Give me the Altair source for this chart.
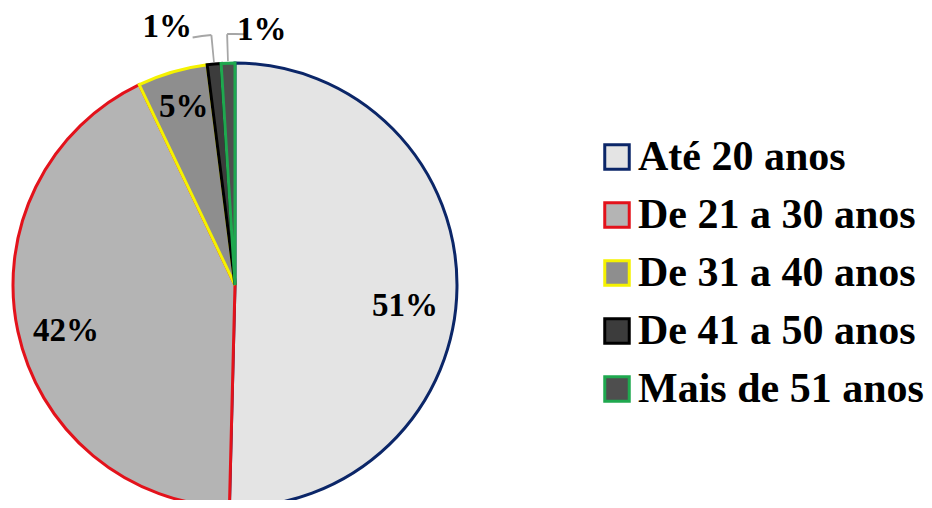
import altair as alt
import pandas as pd

categories = ["Até 20 anos", "De 21 a 30 anos", "De 31 a 40 anos", "De 41 a 50 anos", "Mais de 51 anos"]
values = [50.4, 42.5, 5.1, 1.0, 1.0]
labels = ["51%", "42%", "5%", "1%", "1%"]
fills = ["#e4e4e4", "#b4b4b4", "#8e8e8e", "#3c3c3c", "#4e4e4e"]
strokes = ["#0b2668", "#e3121b", "#f5f200", "#000000", "#1fa84f"]

df = pd.DataFrame({"cat": categories, "value": values, "label": labels, "idx": list(range(len(categories)))})

theta_scale = alt.Scale(domain=[0, 100], range=[0, 6.283185307179586])
CX, CY = 227, 277
FONT = "Liberation Serif"

base = (
    alt.Chart(df)
    .transform_stack(stack="value", groupby=[], as_=["v0", "v1"], sort=[alt.SortField("idx", order="ascending")])
    .transform_calculate(mid="(datum.v0 + datum.v1) / 2")
)

pie = base.mark_arc(strokeWidth=3, radius=222, strokeJoin="miter").encode(
    theta=alt.Theta("v0:Q", scale=theta_scale),
    theta2="v1:Q",
    x=alt.value(CX),
    y=alt.value(CY),
    fill=alt.Fill("cat:N", scale=alt.Scale(domain=categories, range=fills), sort=categories, title=None),
    stroke=alt.Stroke("cat:N", scale=alt.Scale(domain=categories, range=strokes), sort=categories, title=None),
    order=alt.Order("idx:Q"),
)

txt_style = dict(font=FONT, fontWeight="bold", fontSize=33, color="black")


def label_layer(src, i, radius, dx, dy):
    return src.transform_filter(f"datum.idx == {i}").mark_text(radius=radius, dx=dx, dy=dy, **txt_style).encode(
        theta=alt.Theta("mid:Q", scale=theta_scale),
        x=alt.value(CX),
        y=alt.value(CY),
        text="label:N",
    )


small = base.transform_filter("datum.value <= 2").transform_calculate(
    a0="datum.mid - 0.06",
    a1="datum.mid + 0.06",
    h1="datum.idx == 3 ? datum.mid - 1.2 : datum.mid + 1.15",
)

lead_radial = small.mark_arc(radius=224, radius2=251, color="#a6a6a6").encode(
    theta=alt.Theta("a0:Q", scale=theta_scale),
    theta2="a1:Q",
    x=alt.value(CX),
    y=alt.value(CY),
)

lead_horiz = small.mark_arc(radius=250, radius2=252, color="#a6a6a6").encode(
    theta=alt.Theta("mid:Q", scale=theta_scale),
    theta2="h1:Q",
    x=alt.value(CX),
    y=alt.value(CY),
)

lab0 = label_layer(base, 0, 178, -8, 19)
lab1 = label_layer(base, 1, 178, 5, 9)
lab2 = label_layer(base, 2, 178, -1, -7)
lab3 = label_layer(small, 3, 262, -43, 3)
lab4 = label_layer(small, 4, 262, 35, 7)

chart = (
    alt.layer(pie, lead_radial, lead_horiz, lab0, lab1, lab2, lab3, lab4)
    .properties(width=916, height=492, padding=0, autosize="none")
    .configure_view(stroke=None)
    .configure_legend(
        orient="none",
        legendX=588,
        legendY=128,
        padding=0,
        symbolType="square",
        symbolSize=600,
        symbolStrokeWidth=3,
        labelFont=FONT,
        labelFontWeight="bold",
        labelFontSize=42,
        labelColor="black",
        labelOffset=0,
        labelLimit=400,
        rowPadding=16,
    )
)

chart.save("out.html", embed_options={"renderer": "svg", "actions": False})
